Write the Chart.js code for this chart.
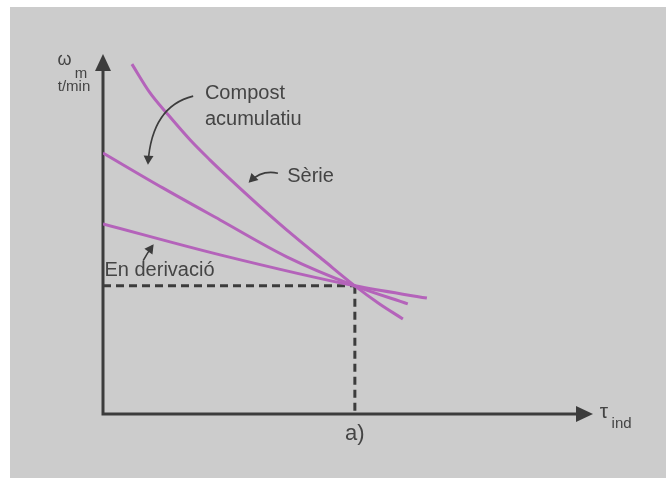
<!DOCTYPE html>
<html>
<head>
<meta charset="utf-8">
<script src="https://cdn.jsdelivr.net/npm/chart.js@4/dist/chart.umd.min.js"></script>
<style>
    html, body { margin: 0; padding: 0; background: #ffffff; }
    #chart_a { display: block; }
</style>
</head>
<body>
<canvas id="chart_a" width="666" height="478"></canvas>
<script>
// torque (tau_ind) and speed (omega_m) in arbitrary units, 0..100 on both axes
var ratedTau = 51.4;
var ratedOmega = 35.6;

var serieTau     = [5.9, 9.6, 13.3, 17.8, 21.8, 25.5, 32, 39, 45, 51.4, 56.3, 61.2];
var serieOmega   = [97.2, 89.2, 83.1, 76.1, 70.6, 65.8, 57.7, 49.4, 42.7, 35.6, 30.7, 26.4];

var compostTau   = [0, 12.2, 23.9, 37.6, 51.4, 62.2];
var compostOmega = [72.5, 62.8, 53.9, 43.6, 35.6, 30.6];

var shuntTau     = [0, 23.9, 51.4, 66.1];
var shuntOmega   = [52.8, 44.2, 35.6, 32.2];

var curveNames = ['Sèrie', 'Compost acumulatiu', 'En derivació'];

(function () {

    "use strict";

    var INK = '#3c3c3c';
    var TEXT = '#444444';
    var CURVE = '#b463ba';
    var FONT = '"Liberation Sans", Arial, sans-serif';

    function toPoints(xs, ys) {
        var pts = [];
        for (var i = 0; i < xs.length; i++) {
            pts.push({ x: xs[i], y: ys[i] });
        }
        return pts;
    }

    function arrowHead(ctx, x, y, angle, size) {
        ctx.save();
        ctx.translate(x, y);
        ctx.rotate(angle);
        ctx.beginPath();
        ctx.moveTo(0, 0);
        ctx.lineTo(-size, -size * 0.55);
        ctx.lineTo(-size, size * 0.55);
        ctx.closePath();
        ctx.fill();
        ctx.restore();
    }

    // small curved pointer from a label towards its curve (data coords)
    function pointer(chart, from, ctrl, to) {
        var ctx = chart.ctx, sx = chart.scales.x, sy = chart.scales.y;
        var x0 = sx.getPixelForValue(from[0]), y0 = sy.getPixelForValue(from[1]);
        var cx = sx.getPixelForValue(ctrl[0]), cy = sy.getPixelForValue(ctrl[1]);
        var x1 = sx.getPixelForValue(to[0]), y1 = sy.getPixelForValue(to[1]);
        var ang = Math.atan2(y1 - cy, x1 - cx);
        ctx.save();
        ctx.strokeStyle = INK;
        ctx.fillStyle = INK;
        ctx.lineWidth = 1.6;
        ctx.beginPath();
        ctx.moveTo(x0, y0);
        ctx.quadraticCurveTo(cx, cy, x1, y1);
        ctx.stroke();
        arrowHead(ctx, x1 + Math.cos(ang) * 2, y1 + Math.sin(ang) * 2, ang, 9);
        ctx.restore();
    }

    function label(chart, text, tx, ty, size, align) {
        var ctx = chart.ctx;
        ctx.save();
        ctx.fillStyle = TEXT;
        ctx.font = size + 'px ' + FONT;
        ctx.textAlign = align || 'left';
        ctx.textBaseline = 'middle';
        ctx.fillText(text, chart.scales.x.getPixelForValue(tx), chart.scales.y.getPixelForValue(ty));
        ctx.restore();
    }

    var backdrop = {
        id: 'backdrop',
        beforeDraw: function (chart) {
            var ctx = chart.ctx;
            ctx.save();
            ctx.fillStyle = '#ffffff';
            ctx.fillRect(0, 0, chart.width, chart.height);
            ctx.fillStyle = '#cccccc';
            ctx.fillRect(10, 7, chart.width - 10, chart.height - 7);
            ctx.restore();
        },
        beforeDatasetsDraw: function (chart) {
            var ctx = chart.ctx, sx = chart.scales.x, sy = chart.scales.y;
            var x0 = sx.getPixelForValue(0), y0 = sy.getPixelForValue(0);
            var xr = sx.getPixelForValue(ratedTau), yr = sy.getPixelForValue(ratedOmega);

            // dashed guides to the rated point
            ctx.save();
            ctx.strokeStyle = INK;
            ctx.lineWidth = 3;
            ctx.setLineDash([8, 5]);
            ctx.beginPath();
            ctx.moveTo(x0, yr);
            ctx.lineTo(xr, yr);
            ctx.moveTo(xr, yr);
            ctx.lineTo(xr, y0);
            ctx.stroke();
            ctx.restore();

            // axes with arrow heads
            var xEnd = sx.getPixelForValue(100), yEnd = sy.getPixelForValue(100);
            ctx.save();
            ctx.strokeStyle = INK;
            ctx.fillStyle = INK;
            ctx.lineWidth = 3;
            ctx.beginPath();
            ctx.moveTo(x0, y0 + 1.5);
            ctx.lineTo(x0, yEnd + 10);
            ctx.moveTo(x0 - 1.5, y0);
            ctx.lineTo(xEnd - 10, y0);
            ctx.stroke();
            ctx.beginPath();
            ctx.moveTo(x0, yEnd);
            ctx.lineTo(x0 - 8, yEnd + 17);
            ctx.lineTo(x0 + 8, yEnd + 17);
            ctx.closePath();
            ctx.fill();
            ctx.beginPath();
            ctx.moveTo(xEnd, y0);
            ctx.lineTo(xEnd - 17, y0 - 8);
            ctx.lineTo(xEnd - 17, y0 + 8);
            ctx.closePath();
            ctx.fill();
            ctx.restore();
        },
        afterDatasetsDraw: function (chart) {
            // axis titles
            label(chart, 'ω', -6.4, 98.3, 18, 'right');
            label(chart, 'm', -3.2, 94.6, 15, 'right');
            label(chart, 't/min', -2.6, 91.0, 15, 'right');
            label(chart, 'τ', 101.4, 0.4, 21, 'left');
            label(chart, 'ind', 103.8, -2.6, 15, 'left');
            label(chart, 'a)', ratedTau, -5.4, 22, 'center');

            // curve labels
            label(chart, 'Compost', 20.8, 88.9, 20);
            label(chart, 'acumulatiu', 20.8, 81.7, 20);
            label(chart, curveNames[0], 37.6, 66.1, 20);
            label(chart, curveNames[2], 0.3, 40.0, 20);

            pointer(chart, [18.4, 88.3], [10.0, 85.5], [9.2, 69.8]);
            pointer(chart, [35.7, 66.9], [32.4, 67.9], [30.0, 64.6]);
            pointer(chart, [8.2, 42.6], [9.0, 44.6], [10.1, 46.7]);
        }
    };

    function curve(name, xs, ys) {
        return {
            label: name,
            data: toPoints(xs, ys),
            borderColor: CURVE,
            borderWidth: 3,
            pointRadius: 0,
            fill: false,
            cubicInterpolationMode: 'monotone'
        };
    }

    var ctx = document.getElementById('chart_a').getContext('2d');
    new Chart(ctx, {
        type: 'line',
        data: {
            datasets: [
                curve(curveNames[0], serieTau, serieOmega),
                curve(curveNames[1], compostTau, compostOmega),
                curve(curveNames[2], shuntTau, shuntOmega)
            ]
        },
        options: {
            responsive: false,
            animation: false,
            layout: { padding: { left: 103, right: 73, top: 54, bottom: 64 } },
            plugins: { legend: { display: false }, tooltip: { enabled: false } },
            scales: {
                x: { type: 'linear', min: 0, max: 100, display: false },
                y: { type: 'linear', min: 0, max: 100, display: false }
            }
        },
        plugins: [backdrop]
    });

})();
</script>
</body>
</html>
